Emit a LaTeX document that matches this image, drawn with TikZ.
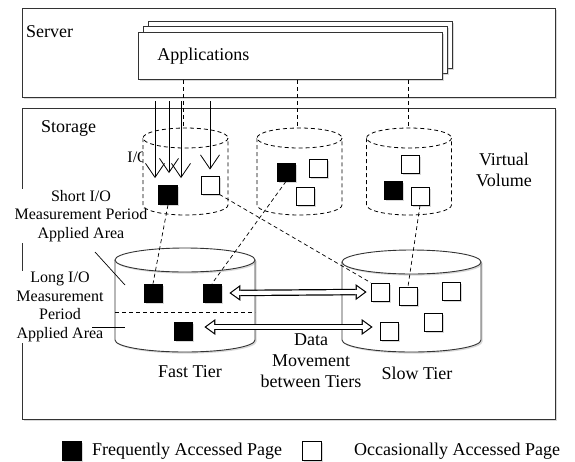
\documentclass[tikz,border=0pt]{standalone}
\usepackage{fontspec}
\setmainfont{Liberation Serif}
\usetikzlibrary{arrows.meta,positioning,shadows,calc}

\tikzset{
  softshadow/.style={drop shadow={shadow xshift=1.6pt, shadow yshift=-1.6pt, opacity=0.3}},
  panel/.style={draw=black!80, line width=0.9pt, fill=white, softshadow},
  appcard/.style={panel, minimum width=304pt, minimum height=47pt, inner sep=0pt},
  hotpage/.style={draw, line width=0.8pt, fill=black, minimum size=18pt, inner sep=0pt, softshadow},
  coldpage/.style={draw, line width=0.8pt, fill=white, minimum size=18pt, inner sep=0pt, softshadow},
  txt/.style={font=\fontsize{18}{21}\selectfont, inner sep=0pt, align=center},
  note/.style={font=\fontsize{16}{18.5}\selectfont, inner sep=1pt, align=center, fill=white},
  mapline/.style={dash pattern=on 4pt off 3pt, line width=0.7pt},
  volline/.style={dash pattern=on 4pt off 3pt, line width=0.8pt},
  ioarrow/.style={line width=0.8pt, -{Straight Barb[length=14pt,width=19pt]}},
  movearrow/.style={line width=6.5pt,
    {Triangle[length=11pt,width=16pt,line width=0pt]}-{Triangle[length=11pt,width=16pt,line width=0pt]},
    postaction={draw=white, line width=4.1pt, shorten <=2pt, shorten >=2pt,
      {Triangle[length=7.7pt,width=11.3pt,line width=0pt]}-{Triangle[length=7.7pt,width=11.3pt,line width=0pt]}}},
}

\begin{document}
\begin{tikzpicture}[x=1pt, y=-1pt]
\useasboundingbox (0,0) rectangle (575,461);

% server side
\draw[panel] (22,8) rectangle (555,97);
\node[txt, anchor=west] (server) at (26,32) {Server};
\node[appcard] (app3) at (300,44.5) {};
\node[appcard] (app2) at (295,49.5) {};
\node[appcard, text width=266pt, align=left, inner xsep=19pt, anchor=north west, font=\fontsize{18}{21}\selectfont] (app) at (138,32) {Applications\\[16pt]};

% storage side
\draw[panel] (22,108) rectangle (555,419);
\node[txt, anchor=base west] (storage) at (41,132) {Storage};
\node[note, fill=none, anchor=east, inner sep=0pt] (io) at (149,157) {I/O};
\node[note] (shortlbl) at (81,216) {Short I/O\\Measurement Period\\Applied Area};
\node[note] (longlbl) at (60,307) {Long I/O\\Measurement\\Period\\Applied Area};
\node[txt] (virt) at (504,170) {Virtual\\Volume};

% virtual volumes
\coordinate (vt1) at (183,128);
\coordinate (vt2) at (297,128);
\coordinate (vt3) at (408,128);
\foreach \v in {vt1,vt2,vt3}
  \draw[mapline] (app.south -| \v) -- (\v);
\foreach \cx in {185.5,299.5,409}{
  \draw[volline, fill=white] (\cx-42.5,138) -- (\cx-42.5,205) arc[start angle=180, end angle=0, x radius=42.5, y radius=10] -- (\cx+42.5,138);
  \draw[volline, fill=white] (\cx,138) ellipse [x radius=42.5, y radius=10];
}
\node[hotpage, minimum size=19pt] (v1a) at (168,195) {};
\node[coldpage] (v1b) at (210,185) {};
\node[hotpage] (v2a) at (286,172) {};
\node[coldpage] (v2b) at (318,168) {};
\node[coldpage] (v2c) at (305,196) {};
\node[coldpage] (v3a) at (410,164) {};
\node[hotpage] (v3b) at (393,190) {};
\node[coldpage] (v3c) at (420,196) {};

% I/O requests
\coordinate (io1) at (155,101);
\coordinate (io2) at (169,101);
\coordinate (io3) at (181,101);
\coordinate (io4) at (210,101);
\draw[ioarrow, shorten >=7pt] (io1) -- (io1 |- v1a.north);
\draw[ioarrow, shorten >=12pt] (io2) -- (io2 |- v1a.north);
\draw[ioarrow, shorten >=7pt] (io3) -- (io3 |- v1a.north);
\draw[ioarrow, shorten >=6pt] (io4) -- (io4 |- v1b.north);

% tiers
\draw[panel] (115,260) -- (115,340) arc[start angle=180, end angle=0, x radius=70, y radius=12] -- (255,260);
\draw[panel, fill=white] (185,260) ellipse [x radius=70, y radius=12];
\draw[mapline, line width=0.8pt] (115,312) -- (255,312);
\draw[panel] (342,262) -- (342,340) arc[start angle=180, end angle=0, x radius=69.5, y radius=12] -- (481,262);
\draw[panel, fill=white] (411.5,262) ellipse [x radius=69.5, y radius=12];

\node[hotpage] (f1) at (153,293) {};
\node[hotpage] (f2) at (212,293) {};
\node[hotpage] (f3) at (183,331) {};
\node[coldpage] (s1) at (380,292) {};
\node[coldpage] (s2) at (408,296) {};
\node[coldpage] (s3) at (451,291) {};
\node[coldpage] (s4) at (389,331) {};
\node[coldpage] (s5) at (433,322) {};

\node[txt] (fast) at (190,372) {Fast Tier};
\node[txt] (slow) at (417,373) {Slow Tier};
\node[txt] (move) at (311,361) {Data\\Movement\\between Tiers};

% data movement
\draw[movearrow] ([xshift=8pt]f2.east) -- ([xshift=-4pt]s1.west);
\draw[movearrow] ([xshift=12pt,yshift=4pt]f3.east) -- ([xshift=-7pt,yshift=4pt]s4.west);

% page mapping
\draw[mapline] (v1a.south) -- (f1.north);
\draw[mapline] (v2a.south) -- (f2.north);
\draw[mapline] (v1b.south east) -- (s1.north west);
\draw[mapline] (v3c.south) -- (s2.north);

% area pointers
\coordinate (shortfrom) at (95,252);
\coordinate (shortto) at (125,285);
\coordinate (longfrom) at (92,327);
\coordinate (longto) at (125,327);
\draw[line width=0.7pt] (shortfrom) -- (shortto);
\draw[line width=0.7pt] (longfrom) -- (longto);

% legend
\node[hotpage, minimum size=19pt] (keyhot) at (72,451) {};
\node[txt, right=10pt of keyhot] (keyhottxt) {Frequently Accessed Page};
\node[coldpage, minimum size=19pt] (keycold) at (312,451) {};
\node[txt, anchor=west] (keycoldtxt) at (354,451) {Occasionally Accessed Page};
\end{tikzpicture}
\end{document}
